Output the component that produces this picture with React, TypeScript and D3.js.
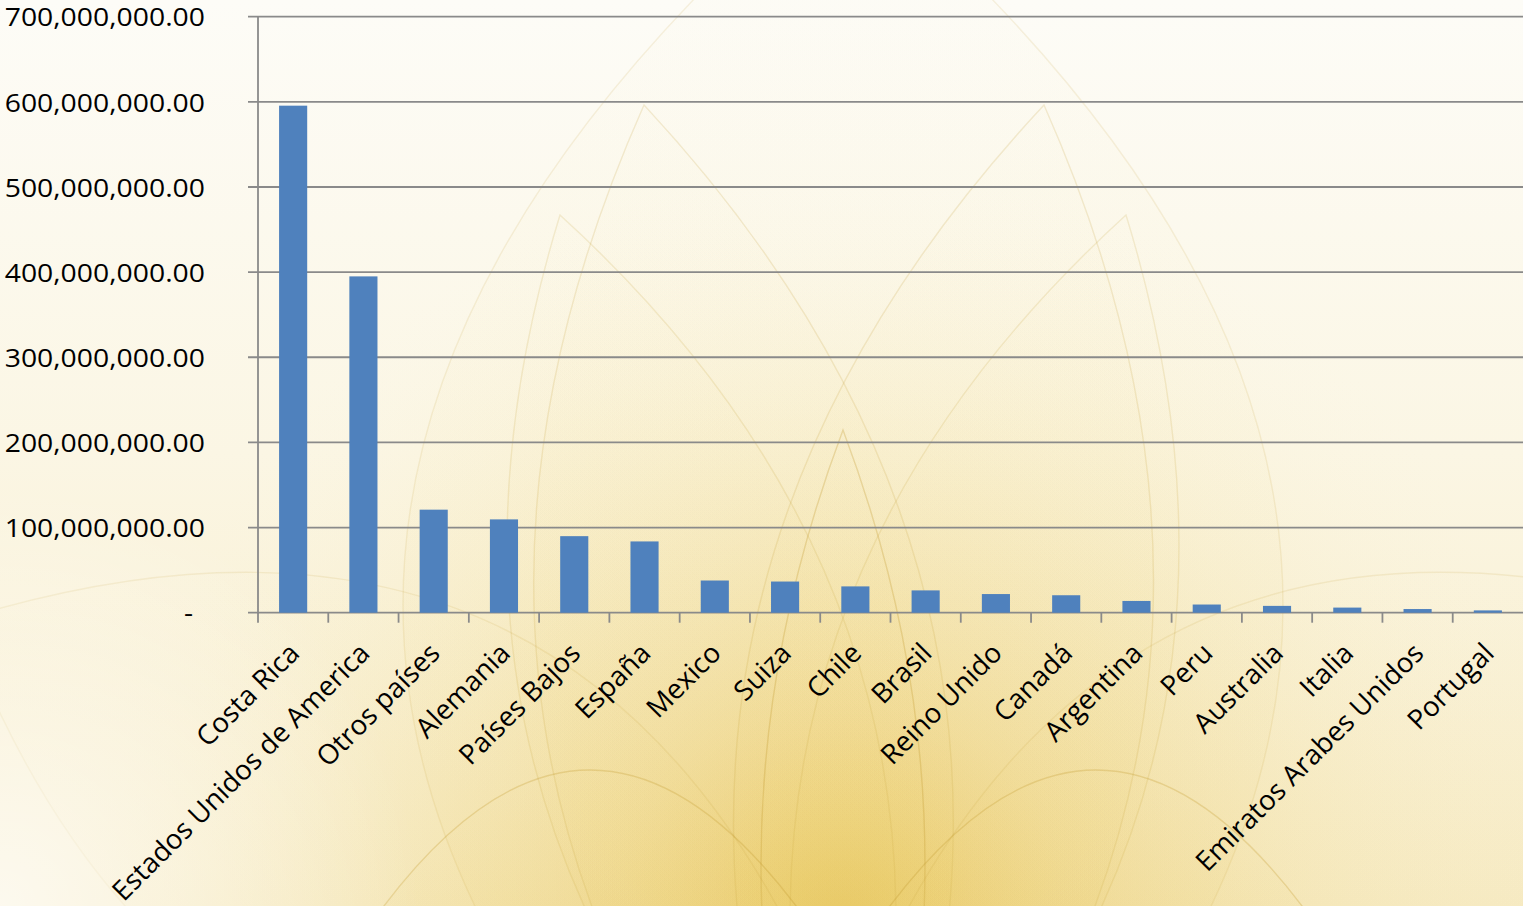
import React from "react";
import * as d3 from "d3";

const categories = [
  "Costa Rica",
  "Estados Unidos de America",
  "Otros países",
  "Alemania",
  "Países Bajos",
  "España",
  "Mexico",
  "Suiza",
  "Chile",
  "Brasil",
  "Reino Unido",
  "Canadá",
  "Argentina",
  "Peru",
  "Australia",
  "Italia",
  "Emiratos Arabes Unidos",
  "Portugal",
];

const values = [
  595.5e6, 395e6, 121e6, 109.6e6, 89.9e6, 83.7e6, 37.8e6, 36.6e6, 30.9e6, 26.2e6,
  21.9e6, 20.5e6, 13.8e6, 9.6e6, 8.0e6, 6.0e6, 4.3e6, 2.7e6,
];

const yTicks = [0, 100e6, 200e6, 300e6, 400e6, 500e6, 600e6, 700e6];

// decorative background petals (tip, base, half-width, opacity)
const PETALS: { tip: [number, number]; base: [number, number]; h: number; o: number }[] = [
  { tip: [843, -140], base: [843, 1350], h: 440, o: 0.45 },
  { tip: [644, 105], base: [843, 1300], h: 200, o: 0.6 },
  { tip: [1044, 105], base: [843, 1300], h: 200, o: 0.6 },
  { tip: [560, 215], base: [843, 1250], h: 170, o: 0.55 },
  { tip: [1126, 215], base: [843, 1250], h: 170, o: 0.55 },
  { tip: [843, 430], base: [843, 1300], h: 82, o: 1 },
  { tip: [337, 975], base: [843, 975], h: 205, o: 1 },
  { tip: [1349, 975], base: [843, 975], h: 205, o: 1 },
  { tip: [-40, 620], base: [843, 1050], h: 230, o: 0.45 },
  { tip: [1726, 620], base: [843, 1050], h: 230, o: 0.45 },
];

function petalPath(p: { tip: [number, number]; base: [number, number]; h: number }) {
  const [bx, by] = p.base;
  const [tx, ty] = p.tip;
  const mx = (bx + tx) / 2;
  const my = (by + ty) / 2;
  const dx = tx - bx;
  const dy = ty - by;
  const len = Math.hypot(dx, dy);
  const nx = -dy / len;
  const ny = dx / len;
  const c = 2 * p.h;
  const path = d3.path();
  path.moveTo(bx, by);
  path.quadraticCurveTo(mx + nx * c, my + ny * c, tx, ty);
  path.quadraticCurveTo(mx - nx * c, my - ny * c, bx, by);
  path.closePath();
  return path.toString();
}

export default function App() {
  const W = 1523;
  const H = 906;
  const left = 258;
  const right = 1523;
  const top = 16.7;
  const bottom = 612.7;

  const x = d3.scaleBand<string>().domain(categories).range([left, right]).padding(0);
  const y = d3.scaleLinear().domain([0, 700e6]).range([bottom, top]);
  const step = x.step();
  const barW = step * 0.4;
  const fmt = d3.format(",.2f");
  const font = "'Open Sans', 'DejaVu Sans', sans-serif";

  return (
    <svg
      width={W}
      height={H}
      style={{ position: "absolute", left: 0, top: 0, display: "block" }}
      xmlns="http://www.w3.org/2000/svg"
    >
      <defs>
        <linearGradient id="bgLin" x1="0" y1="0" x2="0" y2="1">
          <stop offset="0" stopColor="#fdfcf7" />
          <stop offset="0.5" stopColor="#fbf6e4" />
          <stop offset="1" stopColor="#f7ecc8" />
        </linearGradient>
        <radialGradient id="bgRad" cx="843" cy="930" r="760" gradientUnits="userSpaceOnUse">
          <stop offset="0" stopColor="#e3bd45" stopOpacity="0.8" />
          <stop offset="0.3" stopColor="#ecd07a" stopOpacity="0.5" />
          <stop offset="0.65" stopColor="#f3e2a8" stopOpacity="0.22" />
          <stop offset="1" stopColor="#fbf5e0" stopOpacity="0" />
        </radialGradient>
        <radialGradient id="leftWhite" cx="0" cy="906" r="420" gradientUnits="userSpaceOnUse">
          <stop offset="0" stopColor="#ffffff" stopOpacity="0.7" />
          <stop offset="1" stopColor="#ffffff" stopOpacity="0" />
        </radialGradient>
        <linearGradient id="petalFill" x1="0" y1="0" x2="0" y2="1">
          <stop offset="0" stopColor="#f2dc8e" stopOpacity="0.02" />
          <stop offset="0.6" stopColor="#ebcf6e" stopOpacity="0.14" />
          <stop offset="1" stopColor="#dfb940" stopOpacity="0.36" />
        </linearGradient>
      </defs>

      {/* background */}
      <rect x={0} y={0} width={W} height={H} fill="url(#bgLin)" />
      <rect x={0} y={0} width={W} height={H} fill="url(#bgRad)" />
      <g>
        {PETALS.map((p, i) => (
          <path
            key={i}
            d={petalPath(p)}
            fill="url(#petalFill)"
            fillOpacity={p.o}
            stroke="#c49b32"
            strokeOpacity={0.3 * p.o}
            strokeWidth={1.4}
          />
        ))}
      </g>
      <rect x={0} y={0} width={W} height={H} fill="url(#leftWhite)" />

      {/* gridlines */}
      <g>
        {yTicks.map((t) => (
          <line
            key={t}
            x1={left - 10}
            x2={right}
            y1={y(t)}
            y2={y(t)}
            stroke="#8a8a8a"
            strokeWidth={1.8}
          />
        ))}
      </g>

      {/* y axis */}
      <line x1={left} x2={left} y1={top} y2={bottom + 1} stroke="#8a8a8a" strokeWidth={1.8} />

      {/* category ticks */}
      <g>
        {categories.map((c) => (
          <line
            key={c}
            x1={x(c)!}
            x2={x(c)!}
            y1={bottom}
            y2={bottom + 10}
            stroke="#8a8a8a"
            strokeWidth={1.8}
          />
        ))}
      </g>

      {/* bars */}
      <g>
        {categories.map((c, i) => (
          <rect
            key={c}
            x={x(c)! + (step - barW) / 2}
            y={y(values[i])}
            width={barW}
            height={bottom - y(values[i])}
            fill="#4f81bd"
          />
        ))}
      </g>

      {/* y labels */}
      <g fontFamily={font} fontSize={26} fill="#000">
        {yTicks.map((t) => (
          <g key={t} transform={`translate(${t === 0 ? 193 : 205}, ${y(t) + 0.6}) scale(1.09, 1)`}>
            <text textAnchor="end" dy="0.35em">
              {t === 0 ? "-" : fmt(t)}
            </text>
          </g>
        ))}
      </g>

      {/* x labels */}
      <g fontFamily={font} fontSize={27.6} fill="#000">
        {categories.map((c) => (
          <text
            key={c}
            textAnchor="end"
            dy="0.35em"
            transform={`translate(${x(c)! + step / 2 + 1}, 648) rotate(-45)`}
          >
            {c}
          </text>
        ))}
      </g>
    </svg>
  );
}
